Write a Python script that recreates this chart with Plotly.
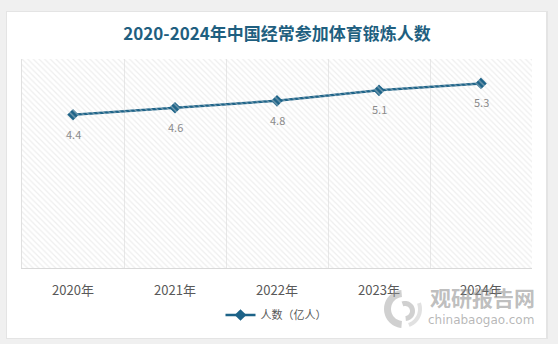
import numpy as np
import plotly.graph_objects as go

# Data
years = ["2020年", "2021年", "2022年", "2023年", "2024年"]
people = [4.4, 4.6, 4.8, 5.1, 5.3]
series_name = "人数（亿人）"
title_text = "2020-2024年中国经常参加体育锻炼人数"

LINE = "#1d6388"
FONT = "Noto Sans CJK SC"

# plot area in pixels (left, right, top, bottom)
PL, PR, PT, PB = 22, 532, 59, 268


def px(xp, yp):
    """Pixel position -> paper coordinates."""
    return (xp - PL) / (PR - PL), (PB - yp) / (PB - PT)


def band_path(cx, cy, r_out, r_in, a0, a1, n=30):
    """Closed SVG path of an annular band in paper coordinates."""
    angs = np.radians(np.linspace(a0, a1, n))
    pts = [px(cx + r_out * np.cos(a), cy - r_out * np.sin(a)) for a in angs]
    pts += [px(cx + r_in * np.cos(a), cy - r_in * np.sin(a)) for a in angs[::-1]]
    return "M " + " L ".join(f"{x:.5f},{y:.5f}" for x, y in pts) + " Z"


fig = go.Figure()

# hatched plot background on an overlay axis pair spanning the plot area
fig.add_trace(go.Scatter(
    x=[0, 1, 1, 0, 0], y=[0, 0, 1, 1, 0],
    xaxis="x2", yaxis="y2",
    mode="lines", line=dict(width=0),
    fill="toself", fillcolor="rgba(0,0,0,0)",
    fillpattern=dict(shape="\\", fgcolor="#dedede", bgcolor="rgba(255,255,255,0)",
                     size=4, solidity=0.3),
    hoverinfo="skip", showlegend=False,
))

fig.add_trace(go.Scatter(
    x=years, y=people, name=series_name,
    mode="lines+markers",
    line=dict(color=LINE, width=2.5),
    marker=dict(symbol="diamond", size=9, color=LINE, line=dict(width=0)),
))

for x, v in zip(years, people):
    fig.add_annotation(x=x, y=v, text=f"{v}", showarrow=False, yshift=-19,
                       font=dict(family=FONT, size=11, color="#8a8a8a"))

# card background with soft shadow
sx0, sy0 = px(6, 339)
sx1, sy1 = px(548, 11)
fig.add_shape(type="rect", xref="paper", yref="paper", layer="below",
              x0=sx0, x1=sx1, y0=sy0, y1=sy1,
              fillcolor="#e4e4e4", line=dict(width=0))
cx0, cy0 = px(7, 338)
cx1, cy1 = px(546, 12)
fig.add_shape(type="rect", xref="paper", yref="paper", layer="below",
              x0=cx0, x1=cx1, y0=cy0, y1=cy1,
              fillcolor="white", line=dict(width=0))

# watermark: swirl logo + name
fig.add_shape(type="path", xref="paper", yref="paper",
              path=band_path(403, 309, 19, 12, 95, 265),
              fillcolor="rgba(150,150,150,0.45)", line=dict(width=0))
fig.add_shape(type="path", xref="paper", yref="paper",
              path=band_path(405, 311, 10, 5, -85, 110),
              fillcolor="rgba(150,150,150,0.45)", line=dict(width=0))
fig.add_shape(type="path", xref="paper", yref="paper",
              path=band_path(403, 309, 19, 15, -70, 20),
              fillcolor="rgba(170,170,170,0.35)", line=dict(width=0))
wx, wy = px(482, 297)
fig.add_annotation(xref="paper", yref="paper", x=wx, y=wy,
                   xanchor="center", yanchor="middle",
                   text="<b>观研报告网</b>", showarrow=False,
                   font=dict(family=FONT, size=21, color="rgba(135,135,135,0.55)"))
wx, wy = px(481, 320)
fig.add_annotation(xref="paper", yref="paper", x=wx, y=wy,
                   xanchor="center", yanchor="middle",
                   text="chinabaogao.com", showarrow=False,
                   font=dict(family="DejaVu Sans", size=12, color="rgba(135,135,135,0.6)"))

tx = 277 / 558
lx, ly = px(276, 315)
fig.update_layout(
    width=558, height=344,
    margin=dict(l=PL, r=558 - PR, t=PT, b=344 - PB),
    paper_bgcolor="#f0f0f0",
    plot_bgcolor="white",
    font=dict(family=FONT),
    title=dict(text=f"<b>{title_text}</b>", x=tx, xanchor="center",
               y=1 - 34 / 344, yanchor="middle",
               font=dict(family=FONT, size=17, color="#1f5f80")),
    xaxis=dict(
        type="category", tickson="boundaries", showgrid=True,
        gridcolor="#e8e8e8", gridwidth=1,
        showline=True, linecolor="#d9d9d9", linewidth=1,
        ticks="", ticklabelstandoff=10,
        tickfont=dict(family=FONT, size=13, color="#595959"),
        range=[-0.5, 4.5], fixedrange=True,
    ),
    yaxis=dict(
        range=[0, 6], showgrid=False, showticklabels=False, zeroline=False,
        showline=True, linecolor="#e0e0e0", linewidth=1, ticks="",
    ),
    xaxis2=dict(range=[0, 1], overlaying="x", visible=False, showgrid=False),
    yaxis2=dict(range=[0, 1], overlaying="y", visible=False, showgrid=False),
    showlegend=True,
    legend=dict(orientation="h", x=lx, xanchor="center",
                y=ly, yanchor="middle", itemwidth=30,
                font=dict(family=FONT, size=11, color="#595959"),
                bgcolor="rgba(0,0,0,0)"),
)

fig.write_html("out.html")
